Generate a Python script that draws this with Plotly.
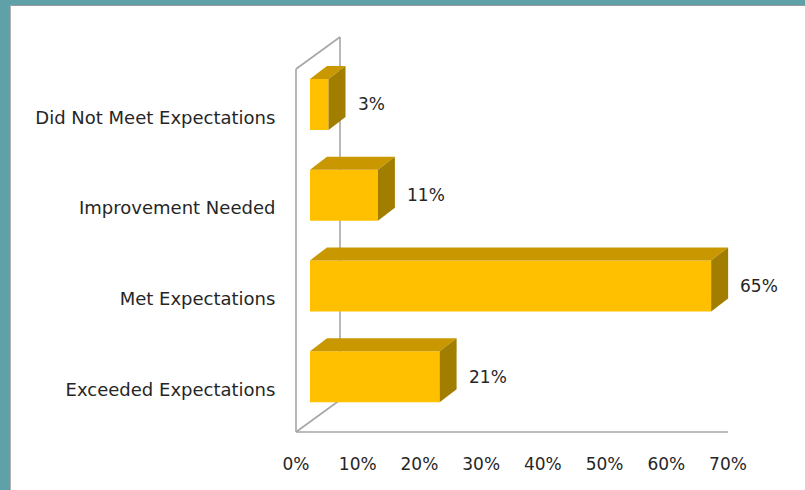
import plotly.graph_objects as go

# ---------------- data ----------------
categories = ["Exceeded Expectations", "Met Expectations",
              "Improvement Needed", "Did Not Meet Expectations"]
values = [21, 65, 11, 3]
x_ticks = [0, 10, 20, 30, 40, 50, 60, 70]
x_tick_labels = ["0%", "10%", "20%", "30%", "40%", "50%", "60%", "70%"]
data_labels = ["21%", "65%", "11%", "3%"]

# ---------------- geometry / style ----------------
FIG_W, FIG_H = 805, 490
SX = 432 / 70.0      # px per percent
SY = 90.75           # px per category
L, R, T, B = 290, 35, 30, 52
PW = FIG_W - L - R
PH = FIG_H - T - B
x_min = -(296 - L) / SX
x_max = x_min + PW / SX
y_min = -0.5 - ((FIG_H - B) - 432) / SY
y_max = y_min + PH / SY

FX, FY = 14 / SX, 10 / SY        # front-face offset of bars from front plane
DDX, DDY = 17 / SX, 13 / SY      # bar depth
BW = 51 / SY                     # bar thickness
WX, WY = 44 / SX, 32 / SY        # wall depth

FRONT = "#FFC000"
TOP = "#C99700"
SIDE = "#A27E00"
WALL = "#A6A6A6"
TXT = "#262626"
TEAL = "#5FA1A9"
FONT = "DejaVu Sans"

fig = go.Figure()

# front faces
fig.add_trace(go.Bar(
    y=list(range(len(categories))), x=values, base=FX, orientation="h",
    width=BW, offset=FY - BW / 2,
    marker=dict(color=FRONT, line=dict(width=0)),
    hoverinfo="skip", showlegend=False))

# top and side faces
for i, v in enumerate(values):
    yc = i + FY
    yt = yc + BW / 2
    yb = yc - BW / 2
    fig.add_trace(go.Scatter(
        x=[FX, FX + v, FX + v + DDX, FX + DDX, FX],
        y=[yt, yt, yt + DDY, yt + DDY, yt],
        mode="lines", fill="toself", fillcolor=TOP,
        line=dict(width=0, color=TOP), hoverinfo="skip", showlegend=False))
    fig.add_trace(go.Scatter(
        x=[FX + v, FX + v + DDX, FX + v + DDX, FX + v, FX + v],
        y=[yb, yb + DDY, yt + DDY, yt, yb],
        mode="lines", fill="toself", fillcolor=SIDE,
        line=dict(width=0, color=SIDE), hoverinfo="skip", showlegend=False))

# data labels
annotations = []
for i, (v, lab) in enumerate(zip(values, data_labels)):
    annotations.append(dict(
        x=FX + v + DDX, y=i + FY, xref="x", yref="y", text=lab,
        showarrow=False, xanchor="left", yanchor="middle", xshift=10,
        font=dict(family=FONT, size=17, color=TXT)))

# walls
top_c = len(categories) - 0.5
bot_c = -0.5
shapes = [
    dict(type="line", xref="x", yref="y", x0=0, y0=bot_c, x1=0, y1=top_c),
    dict(type="line", xref="x", yref="y", x0=0, y0=top_c, x1=WX, y1=top_c + WY),
    dict(type="line", xref="x", yref="y", x0=WX, y0=top_c + WY, x1=WX, y1=bot_c + WY),
    dict(type="line", xref="x", yref="y", x0=0, y0=bot_c, x1=WX, y1=bot_c + WY),
    dict(type="line", xref="x", yref="y", x0=0, y0=bot_c, x1=x_ticks[-1], y1=bot_c),
]
for s in shapes:
    s["line"] = dict(color=WALL, width=1.6)
    s["layer"] = "below"

# frame border (teal)
def px2paper_x(px):
    return (px - L) / PW

def px2paper_y(py):
    return ((FIG_H - B) - py) / PH

shapes += [
    dict(type="rect", xref="paper", yref="paper",
         x0=px2paper_x(0), x1=px2paper_x(FIG_W), y0=px2paper_y(5), y1=px2paper_y(0),
         fillcolor=TEAL, line=dict(width=0), layer="below"),
    dict(type="rect", xref="paper", yref="paper",
         x0=px2paper_x(0), x1=px2paper_x(10), y0=px2paper_y(FIG_H), y1=px2paper_y(0),
         fillcolor=TEAL, line=dict(width=0), layer="below"),
    dict(type="line", xref="paper", yref="paper",
         x0=px2paper_x(10), x1=px2paper_x(FIG_W), y0=px2paper_y(5.5), y1=px2paper_y(5.5),
         line=dict(color="#9A9A9A", width=1.2), layer="below"),
    dict(type="line", xref="paper", yref="paper",
         x0=px2paper_x(10.5), x1=px2paper_x(10.5), y0=px2paper_y(FIG_H), y1=px2paper_y(5),
         line=dict(color="#B0B0B0", width=1), layer="below"),
]

fig.update_layout(
    width=FIG_W, height=FIG_H,
    margin=dict(l=L, r=R, t=T, b=B, autoexpand=False),
    paper_bgcolor="white", plot_bgcolor="rgba(0,0,0,0)",
    showlegend=False, shapes=shapes, annotations=annotations,
    font=dict(family=FONT, color=TXT),
    xaxis=dict(range=[x_min, x_max], tickvals=x_ticks, ticktext=x_tick_labels,
               ticks="outside", ticklen=11, tickcolor="rgba(0,0,0,0)",
               showgrid=False, zeroline=False, showline=False, fixedrange=True,
               tickfont=dict(family=FONT, size=17, color=TXT)),
    yaxis=dict(range=[y_min, y_max], tickvals=list(range(len(categories))),
               ticktext=categories, ticks="outside", ticklen=10,
               tickcolor="rgba(0,0,0,0)", showgrid=False, zeroline=False,
               showline=False, fixedrange=True, ticklabelshift=3,
               tickfont=dict(family=FONT, size=18, color=TXT)),
)

fig.write_html("out.html")
